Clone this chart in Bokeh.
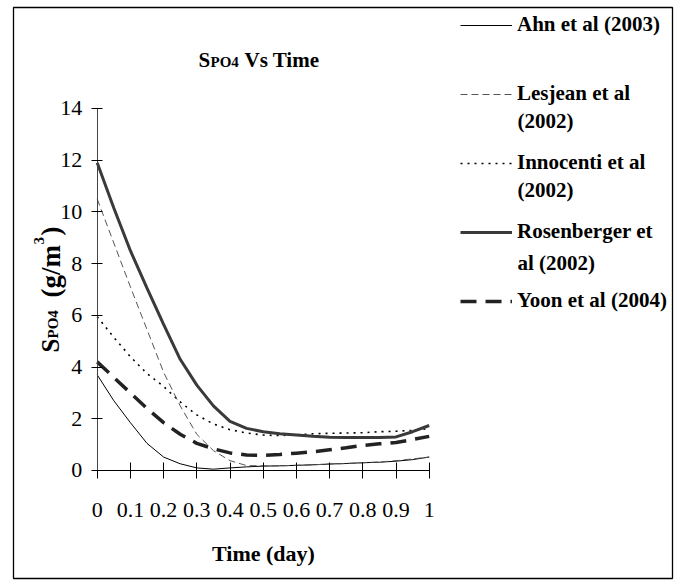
import math
from bokeh.plotting import figure
from bokeh.models import Label, Legend, LegendItem, FixedTicker, Range1d
from bokeh.embed import file_html
from bokeh.resources import INLINE

# ---- data ----
time_day = [0, 0.05, 0.1, 0.15, 0.2, 0.25, 0.3, 0.35, 0.4, 0.45, 0.5,
            0.55, 0.6, 0.65, 0.7, 0.75, 0.8, 0.85, 0.9, 0.95, 1.0]
ahn_2003 = [3.7, 2.7, 1.85, 1.05, 0.52, 0.26, 0.1, 0.05, 0.1, 0.14, 0.17,
            0.18, 0.2, 0.22, 0.25, 0.27, 0.3, 0.32, 0.36, 0.42, 0.52]
lesjean_2002 = [10.5, 8.8, 7.1, 5.45, 3.8, 2.5, 1.4, 0.77, 0.38, 0.19, 0.18,
                0.18, 0.2, 0.22, 0.25, 0.27, 0.3, 0.33, 0.38, 0.45, 0.52]
innocenti_2002 = [5.95, 5.15, 4.4, 3.75, 3.25, 2.65, 2.15, 1.8, 1.58, 1.45, 1.37,
                  1.35, 1.38, 1.42, 1.44, 1.45, 1.46, 1.5, 1.52, 1.55, 1.62]
rosenberger_2002 = [11.9, 10.15, 8.5, 7.05, 5.65, 4.3, 3.3, 2.5, 1.9, 1.63, 1.5,
                    1.42, 1.37, 1.32, 1.29, 1.28, 1.28, 1.28, 1.3, 1.5, 1.74]
yoon_2004 = [4.2, 3.6, 3.0, 2.4, 1.85, 1.4, 1.05, 0.84, 0.68, 0.6, 0.58,
             0.62, 0.67, 0.72, 0.8, 0.88, 0.97, 1.03, 1.08, 1.2, 1.32]

x_ticks = [0, 0.1, 0.2, 0.3, 0.4, 0.5, 0.6, 0.7, 0.8, 0.9, 1.0]
x_tick_labels = ["0", "0.1", "0.2", "0.3", "0.4", "0.5", "0.6", "0.7", "0.8", "0.9", "1"]
y_ticks = [0, 2, 4, 6, 8, 10, 12, 14]

legend_first = ["Ahn et al (2003)", "Lesjean et al", "Innocenti et al",
                "Rosenberger et", "Yoon et al (2004)"]
legend_second = ["(2002)", "(2002)", "al (2002)"]

FONT = "Liberation Serif"

# frame covers the whole chart box (its outline is the outer border);
# the axes sit at x=0 / y=0 and are bounded to the data extent.
p = figure(width=676, height=581, output_backend="svg", toolbar_location=None,
           x_range=Range1d(-0.2521, 1.7328), y_range=Range1d(-4.177, 17.906),
           min_border_left=13, min_border_right=4, min_border_top=7,
           min_border_bottom=3, outline_line_color="black",
           outline_line_width=1.3)
p.xgrid.visible = False
p.ygrid.visible = False
p.background_fill_color = "white"
p.border_fill_color = "white"

# axes
p.xaxis.ticker = FixedTicker(ticks=x_ticks)
p.xaxis.major_label_overrides = {t: l for t, l in zip(x_ticks, x_tick_labels)}
p.yaxis.ticker = FixedTicker(ticks=y_ticks)
p.xaxis.bounds = (0, 1)
p.yaxis.bounds = (0, 14)
p.xaxis.fixed_location = 0
p.yaxis.fixed_location = 0
for ax in (p.xaxis, p.yaxis):
    ax.minor_tick_line_color = None
    ax.major_label_text_font = FONT
    ax.major_label_text_font_size = "22px"
    ax.major_label_text_color = "black"
    ax.major_tick_line_color = "black"
    ax.major_tick_line_width = 1
p.xaxis.axis_line_color = "black"
p.yaxis.axis_line_color = "#444444"
p.xaxis.major_tick_in = 8
p.xaxis.major_tick_out = 8
p.yaxis.major_tick_in = 5
p.yaxis.major_tick_out = 6
p.xaxis.major_label_standoff = 25
p.yaxis.major_label_standoff = 9
p.xaxis.axis_label = "Time (day)"
p.xaxis.axis_label_text_font = FONT
p.xaxis.axis_label_text_font_style = "bold"
p.xaxis.axis_label_text_font_size = "22px"
p.xaxis.axis_label_text_color = "black"
p.xaxis.axis_label_standoff = 20

# series
r_ahn = p.line(time_day, ahn_2003, line_color="black", line_width=1)
r_inn = p.line(time_day, innocenti_2002, line_color="black", line_width=1.6,
               line_dash="2 5")
r_yoon = p.line(time_day, yoon_2004, line_color="#222222", line_width=3.5,
                line_dash="16 9")
r_ros = p.line(time_day, rosenberger_2002, line_color="#3a3a3a", line_width=3)
r_les = p.line(time_day, lesjean_2002, line_color="#555555", line_width=1,
               line_dash="7 4")

# legend
items = [LegendItem(label=legend_first[0], renderers=[r_ahn]),
         LegendItem(label=legend_first[1], renderers=[r_les]),
         LegendItem(label=legend_first[2], renderers=[r_inn]),
         LegendItem(label=legend_first[3], renderers=[r_ros]),
         LegendItem(label=legend_first[4], renderers=[r_yoon])]
legend = Legend(items=items, location=(447, 265), padding=0, margin=0,
                spacing=44, glyph_width=52, glyph_height=24, label_height=24,
                label_standoff=5, label_text_font=FONT,
                label_text_font_style="bold", label_text_font_size="21px",
                label_text_color="black", border_line_color=None,
                background_fill_alpha=0)
p.add_layout(legend, "center")

for txt, sy in zip(legend_second, [458, 389, 316]):
    p.add_layout(Label(x=504, y=sy, x_units="screen", y_units="screen", text=txt,
                       text_font=FONT, text_font_style="bold",
                       text_font_size="21px", text_baseline="middle",
                       text_color="black"))

def lab(text, x, y, size, angle=0.0):
    p.add_layout(Label(x=x, y=y, x_units="screen", y_units="screen", text=text,
                       text_font=FONT, text_font_style="bold",
                       text_font_size=size, text_baseline="alphabetic",
                       text_align="left", angle=angle, text_color="black"))

# title with subscript
lab("S", 185, 519, "21px")
lab("PO4", 197, 517, "15px")
lab("Vs Time", 231, 519, "21px")

# y axis label (rotated) with sub/superscript
A = math.pi / 2
lab("S", 37, 226, "25px", A)
lab("PO4", 39, 240, "15px", A)
lab("(g/m", 37, 281, "27px", A)
lab("3", 25, 334, "15px", A)
lab(")", 37, 343, "27px", A)

open("out.html", "w").write(file_html(p, INLINE))
